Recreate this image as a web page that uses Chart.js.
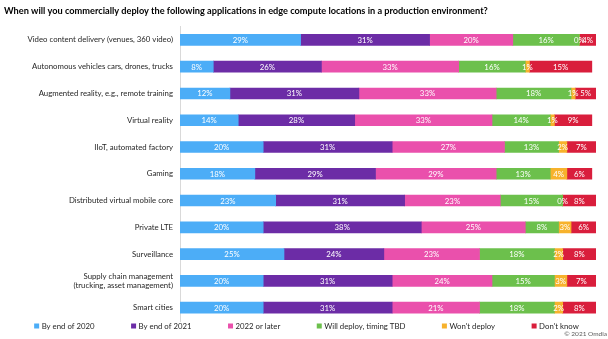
<!DOCTYPE html>
<html>
<head>
<meta charset="utf-8">
<script src="https://cdn.jsdelivr.net/npm/chart.js@4"></script>
<style>
  html, body { margin: 0; padding: 0; background: #fff; }
  #wrap { width: 608px; height: 339px; position: relative; }
</style>
</head>
<body>
<div id="wrap"><canvas id="myChart"></canvas></div>
<script>
const categories = [
  "Video content delivery (venues, 360 video)",
  "Autonomous vehicles cars, drones, trucks",
  "Augmented reality, e.g., remote training",
  "Virtual reality",
  "IIoT, automated factory",
  "Gaming",
  "Distributed virtual mobile core",
  "Private LTE",
  "Surveillance",
  ["Supply chain management", "(trucking, asset management)"],
  "Smart cities",
];

const byEnd2020 = [29, 8, 12, 14, 20, 18, 23, 20, 25, 20, 20];
const byEnd2021 = [31, 26, 31, 28, 31, 29, 31, 38, 24, 31, 31];
const later2022 = [20, 33, 33, 33, 27, 29, 23, 25, 23, 24, 21];
const timingTBD = [16, 16, 18, 14, 13, 13, 15, 8, 18, 15, 18];
const wontDeploy = [0, 1, 1, 1, 2, 4, 0, 3, 2, 3, 2];
const dontKnow = [4, 15, 5, 9, 7, 6, 8, 6, 8, 7, 8];

const seriesNames = ["By end of 2020", "By end of 2021", "2022 or later", "Will deploy, timing TBD", "Won't deploy", "Don't know"];
const seriesColors = ["#4CADF7", "#6C2CA6", "#EA50AC", "#6CC04C", "#F7B22C", "#D91E3C"];
const seriesData = [byEnd2020, byEnd2021, later2022, timingTBD, wontDeploy, dontKnow];

const FONT = "Lato, 'Open Sans', sans-serif";

// white value labels centred in every segment
const segmentLabels = {
  id: "segmentLabels",
  afterDatasetsDraw(chart) {
    const ctx = chart.ctx;
    ctx.save();
    ctx.font = "7.8px " + FONT;
    ctx.fillStyle = "#fff";
    ctx.textAlign = "center";
    ctx.textBaseline = "middle";
    chart.data.datasets.forEach((ds, i) => {
      const meta = chart.getDatasetMeta(i);
      meta.data.forEach((bar, j) => {
        const x = (bar.x + bar.base) / 2;
        ctx.fillText(ds.data[j] + "%", x, bar.y + 0.5);
      });
    });
    ctx.restore();
  },
};

// legend row along the bottom plus the source note
const bottomLegend = {
  id: "bottomLegend",
  afterDraw(chart) {
    const ctx = chart.ctx;
    const gap = 36.5, box = 5, textGap = 2.5;
    ctx.save();
    ctx.font = "7.8px " + FONT;
    ctx.textBaseline = "middle";
    ctx.textAlign = "left";
    const widths = chart.data.datasets.map((ds) => box + textGap + ctx.measureText(ds.label).width);
    const total = widths.reduce((a, b) => a + b, 0) + gap * (widths.length - 1);
    let x = 306.5 - total / 2;
    const y = 326;
    chart.data.datasets.forEach((ds, i) => {
      ctx.fillStyle = ds.backgroundColor;
      ctx.fillRect(x, y - box / 2, box, box);
      ctx.fillStyle = "#262626";
      ctx.fillText(ds.label, x + box + textGap, y);
      x += widths[i] + gap;
    });
    ctx.font = "6.5px " + FONT;
    ctx.fillStyle = "#595959";
    ctx.textAlign = "right";
    ctx.fillText("\u00a9 2021 Omdia", 607, 334);
    ctx.restore();
  },
};

const ctx = document.getElementById("myChart").getContext("2d");
new Chart(ctx, {
  type: "bar",
  data: {
    labels: categories,
    datasets: seriesNames.map((name, i) => ({
      label: name,
      data: seriesData[i],
      backgroundColor: seriesColors[i],
      borderWidth: 0,
      barThickness: 11,
    })),
  },
  plugins: [segmentLabels, bottomLegend],
  options: {
    indexAxis: "y",
    responsive: true,
    maintainAspectRatio: false,
    animation: false,
    layout: { padding: { left: 4, right: 12, top: 0, bottom: 18 } },
    scales: {
      x: { stacked: true, min: 0, max: 100, display: false },
      y: {
        stacked: true,
        grid: { display: false, drawTicks: false },
        border: { display: true, color: "#d9d9d9", width: 1 },
        ticks: { color: "#262626", padding: 7, font: { family: FONT, size: 7.8 } },
        afterFit(scale) { scale.width = 176; },
      },
    },
    plugins: {
      legend: { display: false },
      tooltip: { enabled: false },
      title: {
        display: true,
        align: "start",
        text: "When will you commercially deploy the following applications in edge compute locations in a production environment?",
        color: "#000",
        font: { family: FONT, size: 9.2, weight: "bold" },
        padding: { top: 6, bottom: 9.5 },
      },
    },
  },
});
</script>
</body>
</html>
